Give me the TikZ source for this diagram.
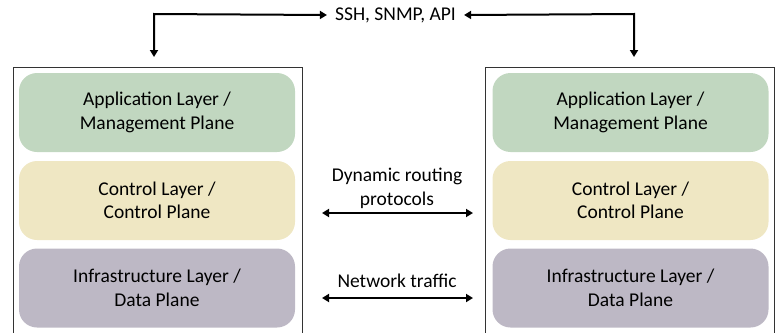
\documentclass[tikz,border=0pt]{standalone}
\usepackage{fontspec}
\setmainfont{Carlito}
\usetikzlibrary{arrows.meta}
\definecolor{appgreen}{HTML}{C1D7C0}
\definecolor{ctlyellow}{HTML}{EFE7C3}
\definecolor{infpurple}{HTML}{BDB8C5}
\begin{document}
\begin{tikzpicture}[x=1pt,y=-1pt,
  outer/.style={draw=black!80,line width=1pt},
  layer/.style={rounded corners=18pt,minimum width=276pt,minimum height=79pt,align=center,inner sep=0pt,font=\fontsize{19.5}{23.5}\selectfont},
  conn/.style={line width=2pt,{Triangle[length=7pt,width=8pt]}-{Triangle[length=7pt,width=8pt]}},
  lbl/.style={font=\fontsize{19.5}{24}\selectfont,align=center,inner sep=0pt}]
\useasboundingbox (0,0) rectangle (776,332);
% outer boxes
\draw[outer] (13,340) -- (13,67) -- (302,67) -- (302,340);
\draw[outer] (485,340) -- (485,67) -- (774,67) -- (774,340);
% layers left
\node[layer,fill=appgreen] (la) at (157,112.5) {Application Layer /\\Management Plane};
\node[layer,fill=ctlyellow] (lc) at (157,200.5) {Control Layer /\\Control Plane};
\node[layer,fill=infpurple] (li) at (157,288) {Infrastructure Layer /\\Data Plane};
% layers right
\node[layer,fill=appgreen] (ra) at (630.5,112.5) {Application Layer /\\Management Plane};
\node[layer,fill=ctlyellow] (rc) at (630.5,200.5) {Control Layer /\\Control Plane};
\node[layer,fill=infpurple] (ri) at (630.5,288) {Infrastructure Layer /\\Data Plane};
% top label and connectors
\node[lbl,inner xsep=8pt] (ssh) at (395.5,15) {SSH, SNMP, API};
\coordinate (lt) at (154,57);
\coordinate (rt) at (634,57);
\draw[conn] (lt) -- (154,14) -- (ssh.west);
\draw[conn] (rt) -- (634,14) -- (ssh.east);
% middle
\node[lbl] (dyn) at (397,188) {Dynamic routing\\protocols};
\node[lbl] (net) at (397,281) {Network traffic};
\coordinate (d1) at (322,213);
\coordinate (d2) at (473,213);
\coordinate (n1) at (322,298);
\coordinate (n2) at (473,298);
\draw[conn] (d1) -- (d2);
\draw[conn] (n1) -- (n2);
\end{tikzpicture}
\end{document}
